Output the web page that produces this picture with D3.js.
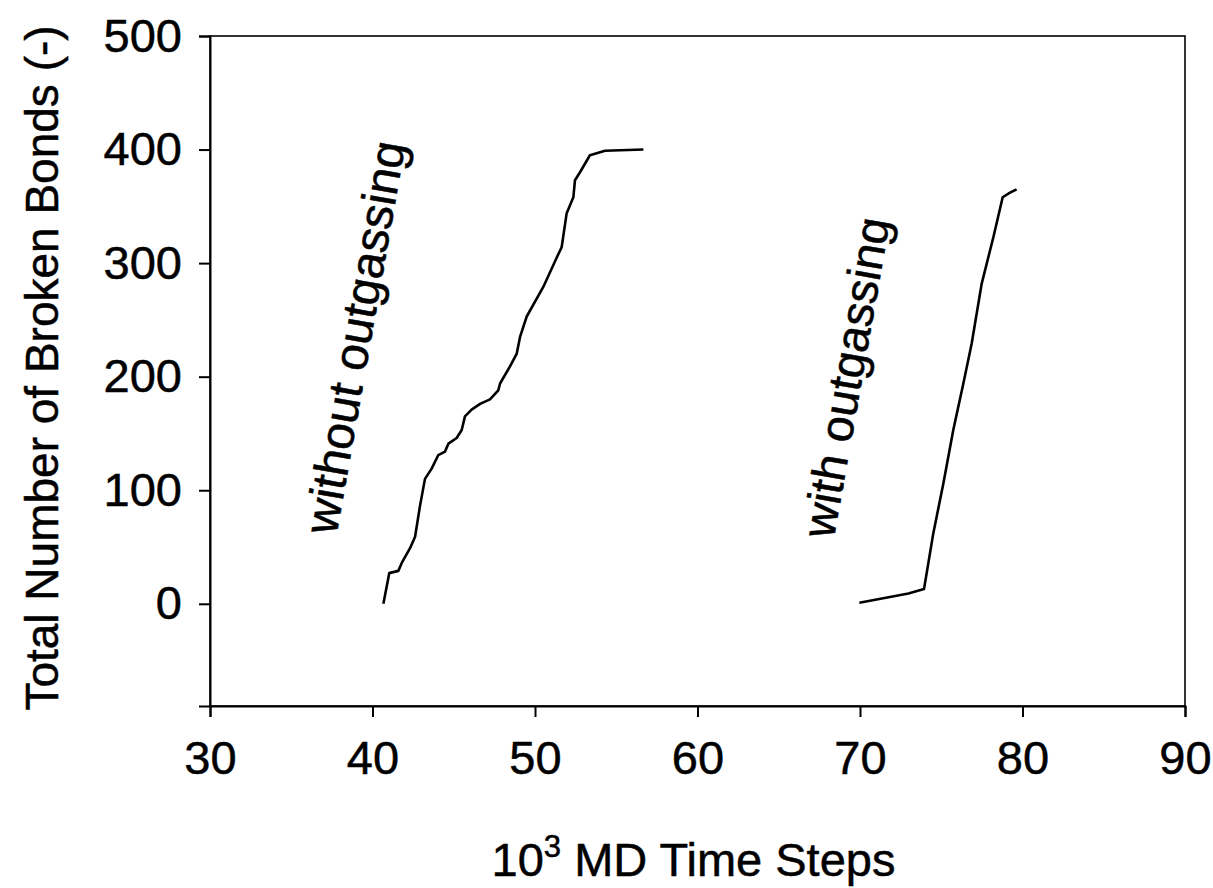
<!DOCTYPE html>
<html>
<head>
<meta charset="utf-8">
<script src="https://cdn.jsdelivr.net/npm/d3@7"></script>
<style>
  html, body { margin: 0; padding: 0; background: #fff; }
  svg { display: block; }
  text { font-family: Arial, "Liberation Sans", sans-serif; fill: #000; stroke: #000; stroke-width: 0.5px; }
</style>
</head>
<body>
<svg id="chart" width="1213" height="888"></svg>
<script>
// ---- data (10^3 MD time steps, total broken bonds) ----
const withoutX = [40.67, 41.03, 41.59, 41.80, 42.31, 42.62, 42.92, 43.23, 43.64, 44.05, 44.46, 44.67, 45.18, 45.49, 45.69, 46.10, 46.62, 47.23, 47.74, 47.85, 48.46, 48.87, 49.08, 49.49, 50.51, 51.34, 51.64, 51.95, 52.36, 52.46, 52.77, 53.38, 54.31, 56.67];
const withoutY = [0, 27, 29, 36, 49, 59, 86, 110, 119, 131, 134, 141, 146, 153, 165, 171, 176, 180, 188, 194, 209, 220, 235, 253, 279, 305, 314, 344, 358, 373, 380, 395, 399, 400];
const withX = [69.96, 72.98, 73.94, 74.51, 75.13, 75.74, 76.36, 76.87, 77.49, 78.21, 78.78, 79.23, 79.64];
const withY = [1, 9, 13, 62, 106, 153, 194, 229, 282, 323, 358, 362, 365];
const xTicks = [30, 40, 50, 60, 70, 80, 90];
const yTicks = [0, 100, 200, 300, 400, 500];
const xDomain = [30, 90];
const yDomain = [-90, 500];
const labels = ["without outgassing", "with outgassing"];

// ---- layout ----
const W = 1213, H = 888;
const m = { left: 210, right: 28, top: 36, bottom: 182 };
const svg = d3.select("#chart");
const x = d3.scaleLinear().domain(xDomain).range([m.left, W - m.right]);
const y = d3.scaleLinear().domain(yDomain).range([H - m.bottom, m.top]);

// frame (top & right)
svg.append("rect")
  .attr("x", x(xDomain[0])).attr("y", y(yDomain[1]))
  .attr("width", x(xDomain[1]) - x(xDomain[0]))
  .attr("height", y(yDomain[0]) - y(yDomain[1]))
  .attr("fill", "none").attr("stroke", "#000").attr("stroke-width", 1.6);

// x axis
const gx = svg.append("g")
  .attr("transform", `translate(0,${y(yDomain[0])})`)
  .call(d3.axisBottom(x).tickValues(xTicks).tickSize(11).tickPadding(24).tickFormat(d3.format("d")));
gx.select(".domain").attr("stroke-width", 2);
gx.selectAll(".tick line").attr("stroke-width", 2);
gx.selectAll(".tick text").style("font-size", "47px");

// y axis
const gy = svg.append("g")
  .attr("transform", `translate(${x(xDomain[0])},0)`)
  .call(d3.axisLeft(y).tickValues(yTicks).tickSize(11).tickPadding(17).tickFormat(d3.format("d")));
gy.select(".domain").attr("stroke-width", 2);
gy.selectAll(".tick line").attr("stroke-width", 2);
gy.selectAll(".tick text").style("font-size", "47px");
svg.selectAll(".domain").attr("stroke", "#000");
svg.selectAll(".tick line").attr("stroke", "#000");
svg.selectAll(".tick text").attr("fill", "#000").attr("font-family", "Arial, 'Liberation Sans', sans-serif");

// lines
const line = d3.line().x(d => x(d[0])).y(d => y(d[1]));
const s1 = withoutX.map((v, i) => [v, withoutY[i]]);
const s2 = withX.map((v, i) => [v, withY[i]]);
[s1, s2].forEach(s => {
  svg.append("path").datum(s).attr("d", line)
    .attr("fill", "none").attr("stroke", "#000").attr("stroke-width", 2.6)
    .attr("stroke-linejoin", "round");
});

// annotations
svg.append("text")
  .attr("transform", `translate(371,340) rotate(-80)`)
  .attr("text-anchor", "middle").style("font-size", "48px")
  .text(labels[0]);
svg.append("text")
  .attr("transform", `translate(862,380) rotate(-80)`)
  .attr("text-anchor", "middle").style("font-size", "47px")
  .text(labels[1]);

// axis titles
svg.append("text")
  .attr("transform", `translate(58,${(y(yDomain[0]) + y(yDomain[1])) / 2 - 3}) rotate(-90)`)
  .attr("text-anchor", "middle").style("font-size", "46px")
  .text("Total Number of Broken Bonds (-)");

const xt = svg.append("text")
  .attr("x", (x(xDomain[0]) + x(xDomain[1])) / 2 - 4).attr("y", 876)
  .attr("text-anchor", "middle").style("font-size", "47px");
xt.append("tspan").text("10");
xt.append("tspan").attr("dy", -19).style("font-size", "31px").text("3");
xt.append("tspan").attr("dy", 19).text(" MD Time Steps");
</script>
</body>
</html>
